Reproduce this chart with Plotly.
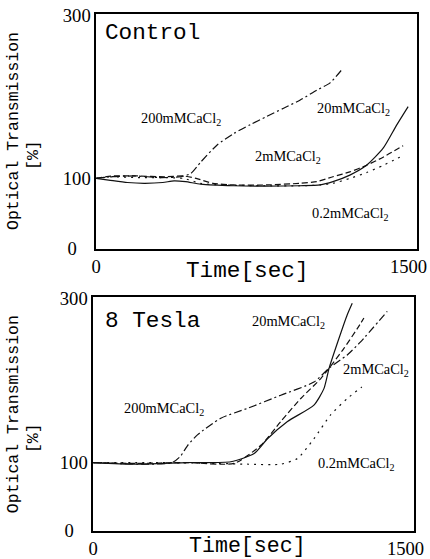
import plotly.graph_objects as go

# ---------------- data ----------------
ctrl_t_200 = [0, 72, 183, 311, 406, 454, 502, 581, 661, 741, 820, 900, 980, 1059, 1123, 1179]
ctrl_v_200 = [100, 102, 103, 101, 102, 106, 120, 141, 155, 166, 176, 186, 196, 208, 217, 233]
ctrl_t_20 = [0, 60, 150, 231, 320, 374, 430, 502, 661, 820, 980, 1075, 1137, 1218, 1298, 1378, 1442, 1498]
ctrl_v_20 = [100, 98, 95, 94, 95, 97, 96, 93, 91, 90.5, 91, 92, 96, 104, 116, 137, 165, 188]
ctrl_t_2 = [0, 80, 200, 330, 420, 480, 560, 661, 820, 980, 1059, 1137, 1218, 1298, 1378, 1474]
ctrl_v_2 = [100, 103, 103, 102, 103, 100, 94, 92, 92, 94, 96, 102, 108, 116, 126, 140]
ctrl_t_02 = [0, 80, 200, 330, 420, 500, 600, 820, 980, 1075, 1137, 1218, 1298, 1378, 1442, 1474]
ctrl_v_02 = [100, 102, 101, 101, 100, 94, 92, 91, 91, 92, 94, 100, 107, 116, 124, 128]

tesla_t_200 = [0, 100, 250, 380, 420, 454, 502, 613, 741, 901, 1060, 1133, 1220, 1284, 1412]
tesla_v_200 = [100, 99, 98, 100, 108, 121, 134, 154, 166, 182, 198, 215, 231, 247, 284]
tesla_t_20 = [0, 200, 450, 661, 773, 837, 933, 1060, 1108, 1133, 1180, 1220, 1244]
tesla_v_20 = [100, 98, 100, 101, 111, 129, 150, 170, 190, 215, 251, 280, 294]
tesla_t_2 = [0, 200, 450, 677, 805, 901, 997, 1092, 1133, 1204, 1268, 1300]
tesla_v_2 = [100, 99, 100, 99, 121, 150, 178, 202, 215, 239, 263, 276]
tesla_t_02 = [0, 300, 600, 741, 901, 981, 1060, 1140, 1220, 1290]
tesla_v_02 = [100, 100, 99, 98, 98, 105, 129, 158, 178, 192]

x_ticks = [0, 1500]
x_tick_text = ["0", "1500"]
y_tick_text = ["0\u00a0\u00a0\u00a0", "100", "300"]
panel_titles = ["Control", "8 Tesla"]

fig = go.Figure()
line_w = 1.2
styles = {"200": "8px,3px,2px,3px", "20": "solid", "2": "6px,3px", "0.2": "2px,5px"}

def add_set(xa, ya, sets):
    for key, t, v in sets:
        fig.add_trace(go.Scatter(x=t, y=v, mode="lines", xaxis=xa, yaxis=ya,
                                 line=dict(color="#111111", width=line_w, dash=styles[key],
                                           shape="spline", smoothing=0.6),
                                 showlegend=False, hoverinfo="skip"))

add_set("x", "y", [("200", ctrl_t_200, ctrl_v_200), ("20", ctrl_t_20, ctrl_v_20),
                   ("2", ctrl_t_2, ctrl_v_2), ("0.2", ctrl_t_02, ctrl_v_02)])
add_set("x2", "y2", [("200", tesla_t_200, tesla_v_200), ("20", tesla_t_20, tesla_v_20),
                     ("2", tesla_t_2, tesla_v_2), ("0.2", tesla_t_02, tesla_v_02)])

# screen-to-page calibration measured on earlier renders
AX, SX = 3.5, 0.97
AY, SY = 7.5, 0.965
W, H = 444, 579

def fx(px):
    return ((px - AX) / SX) / W

def fy(py):
    return 1 - ((py - AY) / SY) / H

def fs(size):
    return round(size / SX, 1)

top_y0, top_y1 = 14, 302
bot_y0, bot_y1 = 17, 302

axis_common = dict(showline=True, mirror=True, linecolor="black", linewidth=1.5,
                   showgrid=False, zeroline=False, ticks="",
                   tickfont=dict(family="Liberation Serif", size=fs(18), color="black"))

fig.update_layout(
    width=W, height=H,
    margin=dict(l=0, r=0, t=0, b=0),
    paper_bgcolor="white", plot_bgcolor="white",
    xaxis=dict(domain=[fx(95), fx(417)], range=[0, 1540], tickvals=x_ticks,
               ticktext=x_tick_text, anchor="y", **axis_common),
    yaxis=dict(domain=[fy(247), fy(12)], range=[top_y0, top_y1],
               tickvals=[top_y0, 100, 300], ticktext=y_tick_text, anchor="x", **axis_common),
    xaxis2=dict(domain=[fx(92), fx(414)], range=[0, 1540], tickvals=x_ticks,
                ticktext=x_tick_text, anchor="y2", **axis_common),
    yaxis2=dict(domain=[fy(529), fy(295)], range=[bot_y0, bot_y1],
                tickvals=[bot_y0, 100, 300], ticktext=y_tick_text, anchor="x2", **axis_common),
)

def ann(text, px, py, size, family, xanchor="center", angle=0):
    fig.add_annotation(text=text, x=fx(px), y=fy(py), xref="paper", yref="paper",
                       xanchor=xanchor, yanchor="middle", showarrow=False, textangle=angle,
                       font=dict(family=family, size=fs(size), color="black"))

mono = "Liberation Mono"
serif = "Liberation Serif"
lab = "mMCaCl<sub>2</sub>"

ann(panel_titles[0], 102, 31, 22, mono, xanchor="left")
ann(panel_titles[1], 102, 319, 22, mono, xanchor="left")
ann("Time[sec]", 247, 269, 22, mono)
ann("Time[sec]", 247, 544, 21, mono)
for cy in (129, 412):
    ann("Optical Transmission", 12, cy, 16, mono, angle=-90)
    ann("[%]", 32, cy + 24, 16, mono, angle=-90)

ann("200" + lab, 180, 117, 14, serif)
ann("20" + lab, 353, 107, 14, serif)
ann("2" + lab, 288, 155, 14, serif)
ann("0.2" + lab, 350, 212, 14, serif)
ann("20" + lab, 288, 320, 14, serif)
ann("2" + lab, 376, 368, 14, serif)
ann("200" + lab, 163, 407, 14, serif)
ann("0.2" + lab, 356, 462, 14, serif)

pin_plot = ("var gd=document.getElementById('{plot_id}');"
            "document.documentElement.style.margin='0';"
            "document.body.style.margin='0';document.body.style.padding='0';"
            "gd.style.position='fixed';gd.style.left='0px';gd.style.top='0px';")

fig.write_html("out.html", post_script=pin_plot, config={"displayModeBar": False})
